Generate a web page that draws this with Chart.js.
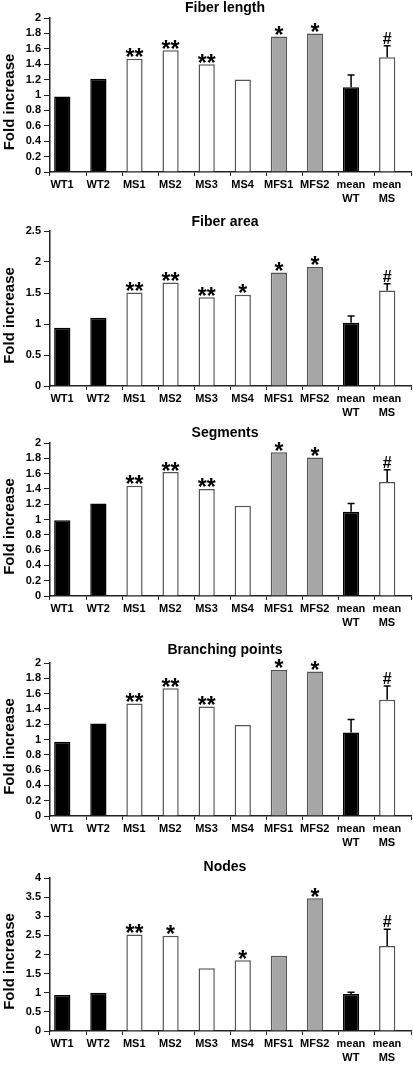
<!DOCTYPE html>
<html>
<head>
<meta charset="utf-8">
<script src="https://cdn.jsdelivr.net/npm/chart.js@4"></script>
<style>
  html, body { margin: 0; padding: 0; background: #fff; }
  #wrap { position: relative; width: 413px; height: 1068px; }
  #wrap canvas { position: absolute; left: 0; }
</style>
</head>
<body>
<div id="wrap"></div>
<script>
// categories shared by all five panels
const categories = ['WT1', 'WT2', 'MS1', 'MS2', 'MS3', 'MS4', 'MFS1', 'MFS2', ['mean', 'WT'], ['mean', 'MS']];
const groups = ['wt', 'wt', 'ms', 'ms', 'ms', 'ms', 'mfs', 'mfs', 'wt', 'ms'];

const titles = ['Fiber length', 'Fiber area', 'Segments', 'Branching points', 'Nodes'];

const fiberLength = [0.98, 1.21, 1.47, 1.58, 1.40, 1.20, 1.76, 1.80, 1.10, 1.49];
const fiberArea = [0.94, 1.10, 1.51, 1.67, 1.43, 1.47, 1.83, 1.92, 1.02, 1.54];
const segments = [0.99, 1.21, 1.44, 1.62, 1.40, 1.18, 1.88, 1.81, 1.10, 1.49];
const branchingPoints = [0.97, 1.21, 1.47, 1.67, 1.43, 1.19, 1.91, 1.89, 1.09, 1.52];
const nodes = [0.94, 1.00, 2.52, 2.49, 1.64, 1.85, 1.97, 3.47, 0.97, 2.22];

// upper error bars (only the two means)
const fiberLengthErr = [null, null, null, null, null, null, null, null, 0.16, 0.15];
const fiberAreaErr = [null, null, null, null, null, null, null, null, 0.11, 0.11];
const segmentsErr = [null, null, null, null, null, null, null, null, 0.11, 0.16];
const branchingPointsErr = [null, null, null, null, null, null, null, null, 0.17, 0.18];
const nodesErr = [null, null, null, null, null, null, null, null, 0.04, 0.44];

// significance marks
const fiberLengthSig = ['', '', '**', '**', '**', '', '*', '*', '', '#'];
const fiberAreaSig = ['', '', '**', '**', '**', '*', '*', '*', '', '#'];
const segmentsSig = ['', '', '**', '**', '**', '', '*', '*', '', '#'];
const branchingPointsSig = ['', '', '**', '**', '**', '', '*', '*', '', '#'];
const nodesSig = ['', '', '**', '*', '', '*', '', '*', '', '#'];

// y axis ranges / tick steps
const yMax = [2, 2.5, 2, 2, 4];
const yStep = [0.2, 0.5, 0.2, 0.2, 0.5];

const values = [fiberLength, fiberArea, segments, branchingPoints, nodes];
const errors = [fiberLengthErr, fiberAreaErr, segmentsErr, branchingPointsErr, nodesErr];
const marks = [fiberLengthSig, fiberAreaSig, segmentsSig, branchingPointsSig, nodesSig];

// panel placement (page coords): title centre, plot top, plot height
const titleY = [8, 222, 433, 650, 867];
const plotTop = [18, 231, 443, 663, 878];
const plotHeight = [154, 155, 153, 153, 153];

// bars sit a little left of the centre of their tick interval in the original
const barShift = 0.34;

const FONT = "'Liberation Sans', Arial, Helvetica, sans-serif";
Chart.defaults.font.family = FONT;
Chart.defaults.color = '#000';

const fillFor = { wt: '#000000', ms: '#ffffff', mfs: '#a6a6a6' };
const borderFor = { wt: '#000000', ms: '#555555', mfs: '#555555' };

const extrasPlugin = {
  id: 'extras',
  afterDatasetsDraw(chart, args, opts) {
    const ctx = chart.ctx;
    const y = chart.scales.y;
    const area = chart.chartArea;
    const meta = chart.getDatasetMeta(0);
    const vals = opts.vals;
    ctx.save();
    // error bars
    opts.err.forEach((e, i) => {
      if (e == null) return;
      const cx = meta.data[i].x;
      const y0 = y.getPixelForValue(vals[i]);
      const y1 = y.getPixelForValue(vals[i] + e);
      ctx.strokeStyle = '#000';
      ctx.lineWidth = 1.5;
      ctx.beginPath();
      ctx.moveTo(cx, y0);
      ctx.lineTo(cx, y1);
      ctx.moveTo(cx - 3.5, y1);
      ctx.lineTo(cx + 3.5, y1);
      ctx.stroke();
    });
    // significance marks
    ctx.fillStyle = '#000';
    ctx.textAlign = 'center';
    ctx.textBaseline = 'alphabetic';
    opts.sig.forEach((s, i) => {
      if (!s) return;
      const cx = meta.data[i].x;
      const top = y.getPixelForValue(vals[i] + (opts.err[i] || 0));
      let centre;
      if (s === '#') {
        ctx.font = 'bold 16px ' + FONT;
        centre = top - 8;
      } else {
        ctx.font = 'bold 23px ' + FONT;
        centre = top - 6;
      }
      const m = ctx.measureText(s);
      const off = (m.actualBoundingBoxAscent - m.actualBoundingBoxDescent) / 2;
      ctx.fillText(s, cx, centre + off);
    });
    // chart title
    ctx.font = 'bold 14px ' + FONT;
    ctx.textBaseline = 'middle';
    ctx.fillText(opts.title, 225, opts.titleY);
    // y axis title
    ctx.translate(9.5, (area.top + area.bottom) / 2 + 7);
    ctx.rotate(-Math.PI / 2);
    ctx.font = 'bold 15px ' + FONT;
    ctx.fillText('Fold increase', 0, 0);
    ctx.restore();
  }
};

const wrap = document.getElementById('wrap');

titles.forEach((title, p) => {
  const canvasTop = Math.max(titleY[p] - 11, 0);
  const padTop = plotTop[p] - canvasTop;
  const h = padTop + plotHeight[p] + 36;
  const canvas = document.createElement('canvas');
  canvas.width = 413;
  canvas.height = h;
  canvas.style.top = canvasTop + 'px';
  canvas.style.width = '413px';
  canvas.style.height = h + 'px';
  wrap.appendChild(canvas);

  new Chart(canvas, {
    type: 'bar',
    data: {
      labels: categories,
      datasets: [{
        xAxisID: 'xb',
        data: values[p].map((v, i) => ({ x: i, y: v })),
        backgroundColor: groups.map(g => fillFor[g]),
        borderColor: groups.map(g => borderFor[g]),
        borderWidth: 1.5,
        categoryPercentage: 1,
        barPercentage: 0.45
      }]
    },
    options: {
      responsive: false,
      animation: false,
      layout: { padding: { top: padTop, right: 2, left: 0, bottom: 0 } },
      plugins: {
        legend: { display: false },
        tooltip: { enabled: false },
        extras: { vals: values[p], err: errors[p], sig: marks[p], title: title, titleY: titleY[p] - canvasTop }
      },
      scales: {
        xb: {
          type: 'linear',
          display: false,
          offset: false,
          min: -barShift,
          max: categories.length - barShift
        },
        x: {
          type: 'category',
          offset: true,
          grid: { display: true, offset: true, drawOnChartArea: false, drawTicks: true, tickLength: 4, color: '#222', lineWidth: 1 },
          border: { display: true, color: '#222', width: 1.5 },
          ticks: { padding: 2, labelOffset: -6, font: { size: 11, weight: 'bold', lineHeight: 1.25 }, color: '#000', maxRotation: 0, autoSkip: false },
          afterFit(scale) { scale.height = 36; }
        },
        y: {
          min: 0,
          max: yMax[p],
          grid: { display: true, drawOnChartArea: false, drawTicks: true, tickLength: 6, color: '#222', lineWidth: 1 },
          border: { display: true, color: '#222', width: 1.5 },
          ticks: {
            stepSize: yStep[p],
            autoSkip: false,
            padding: 3,
            font: { size: 11, weight: 'bold' },
            color: '#000',
            callback: v => String(+v.toFixed(1))
          },
          afterFit(scale) { scale.width = 50; }
        }
      }
    },
    plugins: [extrasPlugin]
  });
});
</script>
</body>
</html>
